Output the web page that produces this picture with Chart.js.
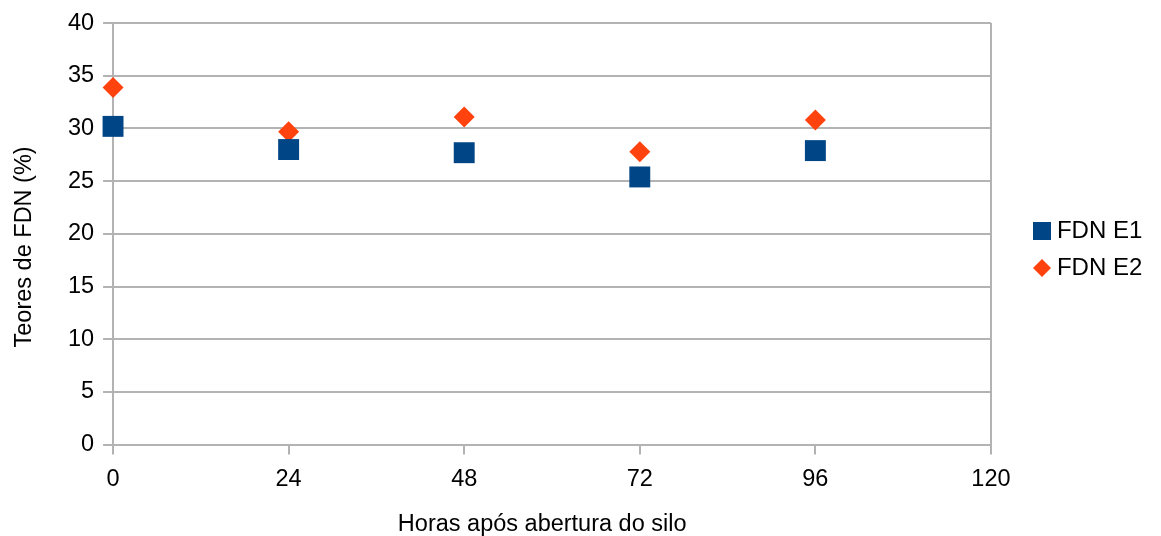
<!DOCTYPE html>
<html>
<head>
<meta charset="utf-8">
<script src="https://cdn.jsdelivr.net/npm/chart.js@4/dist/chart.umd.min.js"></script>
<style>
  html, body { margin: 0; padding: 0; background: #ffffff; }
  #wrap { width: 1161px; height: 536px; }
</style>
</head>
<body>
<div id="wrap"><canvas id="c" width="1161" height="536"></canvas></div>
<script>
// ---- data ----
const hours = [0, 24, 48, 72, 96];
const fdnE1 = [30.2, 28.0, 27.7, 25.4, 27.9];
const fdnE2 = [33.9, 29.7, 31.1, 27.8, 30.8];
const xTickValues = [0, 24, 48, 72, 96, 120];
const yTickValues = [0, 5, 10, 15, 20, 25, 30, 35, 40];
const seriesNames = ['FDN E1', 'FDN E2'];
const xTitle = 'Horas após abertura do silo   ';
const yTitle = 'Teores de FDN (%)    ';

const BLUE = '#004586';
const ORANGE = '#ff420e';
const GRID = '#b3b3b3';
const FONT = "'Liberation Sans', Arial, sans-serif";

// legend marker images (square / diamond), offset to the right inside a wider canvas
function legendMarker(kind, color) {
  const off = 17.5, half = 9;
  const W = Math.ceil(2 * (off + half + 1)), H = 20;
  const cv = document.createElement('canvas');
  cv.width = W; cv.height = H;
  const g = cv.getContext('2d');
  const cx = W / 2 + off, cy = H / 2;
  g.fillStyle = color;
  g.beginPath();
  if (kind === 'rect') {
    g.rect(cx - half, cy - half, 2 * half, 2 * half);
  } else {
    g.moveTo(cx - half, cy); g.lineTo(cx, cy - half); g.lineTo(cx + half, cy); g.lineTo(cx, cy + half); g.closePath();
  }
  g.fill();
  return cv;
}
const legendImgs = [legendMarker('rect', BLUE), legendMarker('diamond', ORANGE)];

const toPoints = (xs, ys) => xs.map((x, i) => ({ x: x, y: ys[i] }));

new Chart(document.getElementById('c'), {
  type: 'scatter',
  data: {
    datasets: [
      {
        label: seriesNames[0],
        data: toPoints(hours, fdnE1),
        pointStyle: 'rect',
        pointRadius: 14.8,
        pointHoverRadius: 14.8,
        backgroundColor: BLUE,
        borderColor: BLUE,
        borderWidth: 0,
        clip: false
      },
      {
        label: seriesNames[1],
        data: toPoints(hours, fdnE2),
        pointStyle: 'rectRot',
        pointRadius: 10.5,
        pointHoverRadius: 10.5,
        backgroundColor: ORANGE,
        borderColor: ORANGE,
        borderWidth: 0,
        clip: false
      }
    ]
  },
  options: {
    responsive: false,
    animation: false,
    devicePixelRatio: 1,
    events: [],
    layout: { padding: { left: 6.7, top: 22, right: 8.7, bottom: -3 } },
    plugins: {
      tooltip: { enabled: false },
      legend: {
        position: 'right',
        align: 'start',
        title: { display: true, text: '', font: { size: 12, lineHeight: 1 }, padding: { top: 172, bottom: 0 } },
        labels: {
          usePointStyle: true,
          pointStyleWidth: 41,
          boxHeight: 18,
          padding: 13,
          color: '#000000',
          font: { family: FONT, size: 24 },
          generateLabels: (chart) => chart.data.datasets.map((ds, i) => ({
            text: ds.label,
            pointStyle: legendImgs[i],
            fillStyle: ds.backgroundColor,
            strokeStyle: ds.backgroundColor,
            lineWidth: 0,
            hidden: false,
            datasetIndex: i,
            fontColor: '#000000'
          }))
        }
      }
    },
    scales: {
      x: {
        type: 'linear',
        min: xTickValues[0],
        max: xTickValues[xTickValues.length - 1],
        afterBuildTicks: (scale) => { scale.ticks = xTickValues.map(v => ({ value: v })); },
        grid: {
          color: (ctx) => (ctx.tick && (ctx.tick.value === xTickValues[0] || ctx.tick.value === xTickValues[xTickValues.length - 1])) ? GRID : 'rgba(0,0,0,0)',
          tickColor: GRID,
          lineWidth: 2,
          tickLength: 10,
          drawTicks: true
        },
        border: { display: true, color: GRID, width: 2 },
        ticks: {
          color: '#000000',
          font: { family: FONT, size: 23.5 },
          padding: 11,
          maxRotation: 0,
          autoSkip: false
        },
        title: {
          display: true,
          text: xTitle,
          color: '#000000',
          font: { family: FONT, size: 23.5 },
          padding: { top: 6, bottom: 0 }
        }
      },
      y: {
        type: 'linear',
        min: yTickValues[0],
        max: yTickValues[yTickValues.length - 1],
        afterBuildTicks: (scale) => { scale.ticks = yTickValues.map(v => ({ value: v })); },
        grid: {
          color: GRID,
          tickColor: GRID,
          lineWidth: 2,
          tickLength: 10
        },
        border: { display: true, color: GRID, width: 2 },
        ticks: {
          color: '#000000',
          font: { family: FONT, size: 23.5 },
          padding: 9
        },
        title: {
          display: true,
          text: yTitle,
          color: '#000000',
          font: { family: FONT, size: 23.5 },
          padding: { top: 4, bottom: 20 }
        }
      }
    }
  }
});
</script>
</body>
</html>
